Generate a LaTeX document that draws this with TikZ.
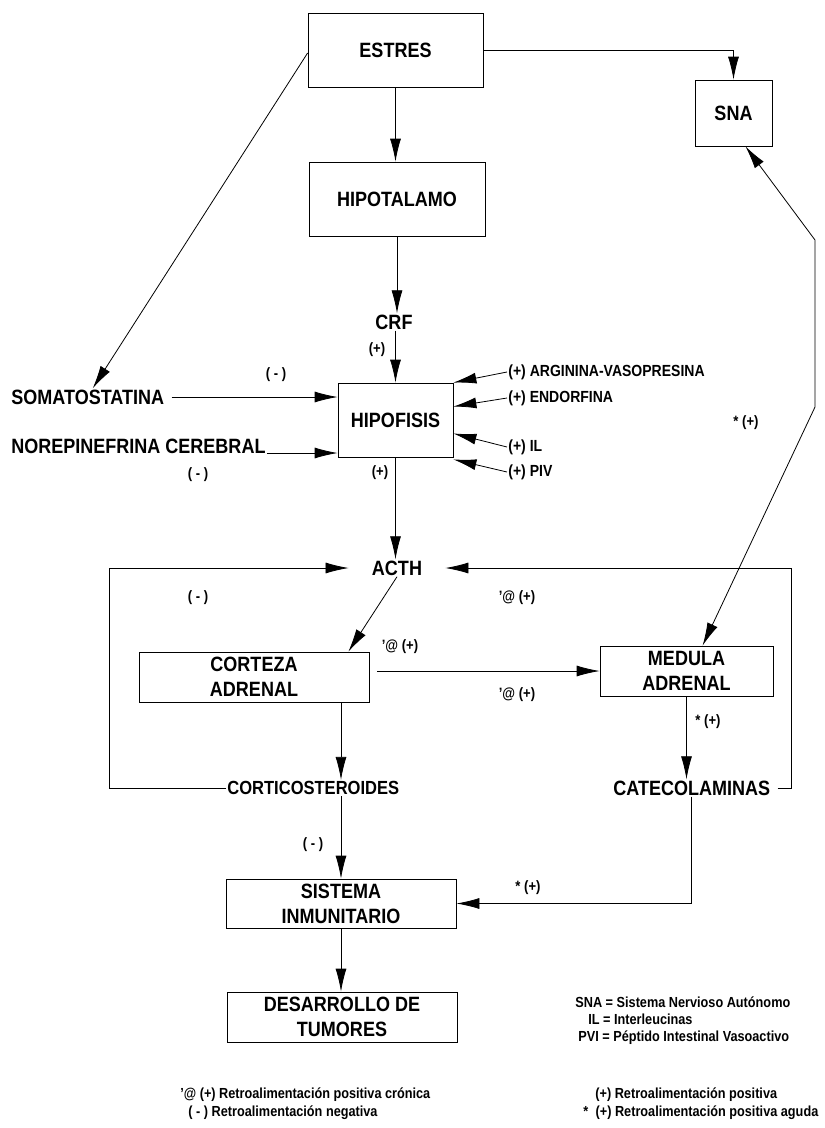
\documentclass[tikz,border=0pt]{standalone}
\usepackage{fontspec}
\setmainfont{Liberation Sans}[FakeStretch=0.87]
\usetikzlibrary{arrows.meta,calc}
\begin{document}
\begin{tikzpicture}[x=1pt,y=-1pt,
  line width=0.8pt,
  arr/.style={-{Latex[length=23pt,width=11pt]}},
  dbl/.style={{Latex[length=23pt,width=11pt]}-{Latex[length=23pt,width=11pt]}},
  box/.style={draw, rectangle, inner sep=0pt, align=center,
    font=\fontsize{20.7}{25}\selectfont\bfseries},
  lbl/.style={inner sep=1pt, font=\fontsize{20.7}{24}\selectfont\bfseries},
  sgn/.style={inner sep=0pt, font=\fontsize{15}{17}\selectfont\bfseries},
  side/.style={inner sep=1pt, anchor=west, font=\fontsize{16.1}{18}\selectfont\bfseries},
  legend/.style={inner sep=0pt, anchor=west, font=\fontsize{14.6}{17}\selectfont\bfseries}
]
\useasboundingbox (0,0) rectangle (825,1128);

% main nodes
\node[box, minimum width=175pt, minimum height=74pt] (estres) at (395.5,50) {ESTRES};
\node[box, minimum width=176pt, minimum height=74pt] (hipot) at (397,199) {HIPOTALAMO};
\node[box, minimum width=77pt, minimum height=66pt] (sna) at (733.5,113) {SNA};
\node[lbl] (crf) at (394,322) {CRF};
\node[box, minimum width=115pt, minimum height=74pt] (hipof) at (395.5,420) {HIPOFISIS};
\node[lbl, anchor=west] (soma) at (10,397) {SOMATOSTATINA};
\node[lbl, anchor=west] (nore) at (10,446) {NOREPINEFRINA CEREBRAL};
\node[side] (av) at (507,372) {(+) ARGININA-VASOPRESINA};
\node[side] (endo) at (507,398) {(+) ENDORFINA};
\node[side] (il) at (507,447) {(+) IL};
\node[side] (piv) at (507,472) {(+) PIV};
\node[lbl] (acth) at (397,568) {ACTH};
\node[box, minimum width=230pt, minimum height=50pt] (corteza) at (254,677) {CORTEZA\\ADRENAL};
\node[box, minimum width=173pt, minimum height=50pt] (medula) at (686.5,671) {MEDULA\\ADRENAL};
\node[lbl, anchor=west, font=\fontsize{19}{22}\selectfont\bfseries] (cortico) at (226,788) {CORTICOSTEROIDES};
\node[lbl, anchor=west] (cateco) at (612,788) {CATECOLAMINAS};
\node[box, minimum width=230pt, minimum height=49pt] (sistema) at (341,903.5) {SISTEMA\\INMUNITARIO};
\node[box, minimum width=230pt, minimum height=50pt] (desarr) at (342,1017) {DESARROLLO DE\\TUMORES};

% bend points
\coordinate (lx) at (109,568);
\coordinate (rx) at (791,568);
\coordinate (k1) at (815,240);
\coordinate (k2) at (815,407);

% connectors
\draw[arr] (estres.south) -- (estres.south |- hipot.north);
\draw[arr] (hipot.south) -- (hipot.south |- crf.north);
\draw[arr] (hipof.north |- crf.south) -- (hipof.north);
\draw[arr] (estres.east) -- (estres.east -| sna.north) -- (sna.north);
\draw[arr] ([yshift=-3pt]estres.west) -- ([xshift=5pt]soma.north);
\draw[arr] ([xshift=6pt]soma.east) -- (soma.east -| hipof.west);
\draw[arr] ([yshift=-7pt]nore.east) -- ($(hipof.west |- nore.east)+(0,7)$);
\draw[arr] (av.west) -- (hipof.north east);
\draw[arr] (endo.west) -- ($(hipof.north east)!0.32!(hipof.south east)$);
\draw[arr] (il.west) -- ($(hipof.north east)!0.68!(hipof.south east)$);
\draw[arr] (piv.west) -- ($(hipof.south east)+(0,2)$);
\draw[arr] (hipof.south) -- (hipof.south |- acth.north);
\draw[arr] (acth.south) -- ($(corteza.north east)+(-21,0)$);
\draw[arr] (cortico.west) -- (cortico.west -| lx) |- ([xshift=-22pt]acth.west);
\draw[arr] ([xshift=6pt]cateco.east) -- (cateco.east -| rx) |- ([xshift=22pt]acth.east);
\draw[arr] ($(corteza.east |- medula.west)+(8,0)$) -- (medula.west);
\draw[arr] (corteza.south -| sistema.north) -- (cortico.north -| sistema.north);
\draw[arr] (cortico.south -| sistema.north) -- (sistema.north);
\draw[arr] (medula.south) -- (medula.south |- cateco.north);
\draw[arr] (cateco.south) |- (sistema.east);
\draw[arr] (sistema.south) -- (sistema.south |- desarr.north);
\draw[dbl] ($(sna.south)+(12,0)$) -- (k1) -- (k2) -- ($(medula.north west)+(103,0)$);

% signs
\node[sgn] (s1) at (377,350) {(+)};
\node[sgn] (s2) at (276,375) {( - )};
\node[sgn] (s3) at (198,475) {( - )};
\node[sgn] (s4) at (380,473) {(+)};
\node[sgn] (s5) at (746,423) {* (+)};
\node[sgn] (s6) at (198,598) {( - )};
\node[sgn] (s7) at (517,598) {'@ (+)};
\node[sgn] (s8) at (400,647) {'@ (+)};
\node[sgn] (s9) at (517,695) {'@ (+)};
\node[sgn] (s10) at (708,722) {* (+)};
\node[sgn] (s11) at (313,845) {( - )};
\node[sgn] (s12) at (528,888) {* (+)};

% legend
\node[legend] (l1) at (575,1002) {SNA = Sistema Nervioso Autónomo};
\node[legend] (l2) at (588,1019) {IL = Interleucinas};
\node[legend] (l3) at (578,1038) {PVI = Péptido Intestinal Vasoactivo};
\node[legend] (l4) at (180,1095) {'@ (+) Retroalimentación positiva crónica};
\node[legend] (l5) at (188,1113) {( - ) Retroalimentación negativa};
\node[legend] (l6) at (595,1095) {(+) Retroalimentación positiva};
\node[legend] (l7) at (583,1113) {*\enspace(+) Retroalimentación positiva aguda};
\end{tikzpicture}
\end{document}
